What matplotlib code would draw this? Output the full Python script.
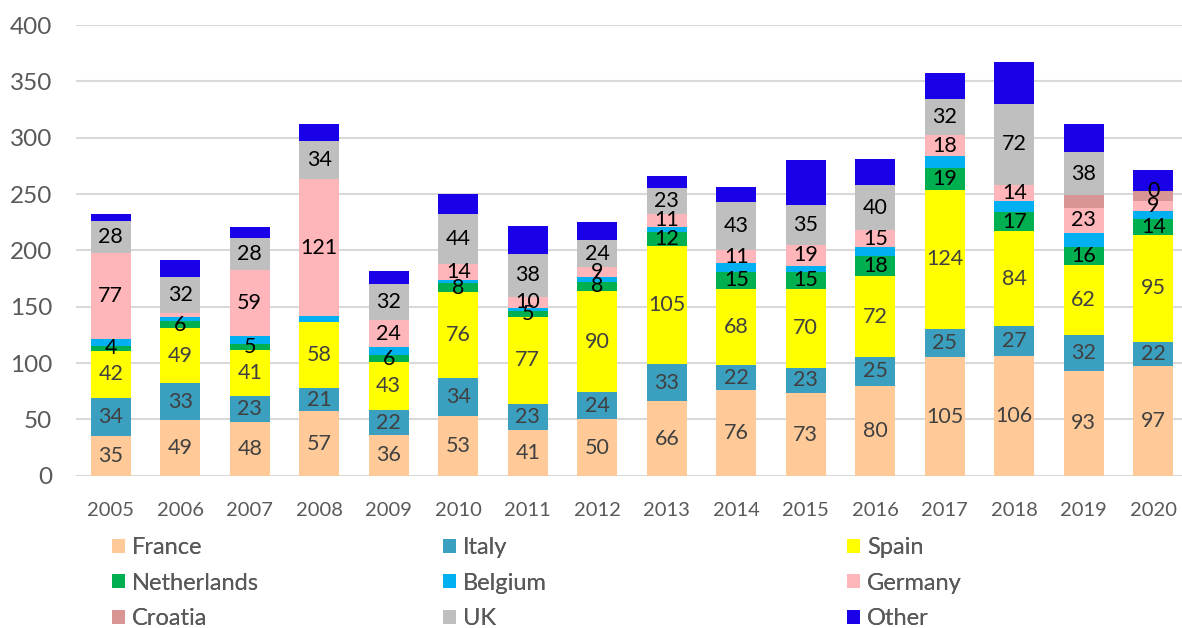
import numpy as np
import matplotlib.pyplot as plt

plt.rcParams['font.family'] = ['Lato', 'DejaVu Sans']

years = ["2005", "2006", "2007", "2008", "2009", "2010", "2011", "2012",
         "2013", "2014", "2015", "2016", "2017", "2018", "2019", "2020"]

nan = np.nan
france = [35, 49, 48, 57, 36, 53, 41, 50, 66, 76, 73, 80, 105, 106, 93, 97]
italy = [34, 33, 23, 21, 22, 34, 23, 24, 33, 22, 23, 25, 25, 27, 32, 22]
spain = [42, 49, 41, 58, 43, 76, 77, 90, 105, 68, 70, 72, 124, 84, 62, 95]
netherlands = [4, 6, 5, nan, 6, 8, 5, 8, 12, 15, 15, 18, 19, 17, 16, 14]
belgium = [6, 4, 7, 6, 7, 3, 3, 4, 5, 8, 5, 8, 11, 10, 12, 7]
germany = [77, 3, 59, 121, 24, 14, 10, 9, 11, 11, 19, 15, 18, 14, 23, 9]
croatia = [nan, nan, nan, nan, nan, nan, nan, nan, nan, nan, nan, nan, nan, nan, 11, 9]
uk = [28, 32, 28, 34, 32, 44, 38, 24, 23, 43, 35, 40, 32, 72, 38, 0]
other = [6, 15, 10, 15, 12, 18, 25, 16, 11, 13, 40, 23, 23, 37, 25, 18]

names = ["France", "Italy", "Spain", "Netherlands", "Belgium", "Germany", "Croatia", "UK", "Other"]
series = [france, italy, spain, netherlands, belgium, germany, croatia, uk, other]
colors = ["#FFCA98", "#3B9FBF", "#FFFF00", "#00B050", "#00B0F0", "#FFB6BA", "#D99594", "#BFBFBF", "#1A00E8"]
# which series get data labels, and in which colour
label_color = {"France": "#404040", "Italy": "#404040", "Spain": "#404040",
               "Netherlands": "black", "Germany": "black", "UK": "black"}
# the 2006 Germany sliver carries no label in the original
skip_labels = {("Germany", "2006")}

fig = plt.figure(figsize=(11.82, 6.28), dpi=100)
ax = fig.add_axes([76 / 1182, 152.3 / 628, 1112 / 1182, 450.7 / 628])

x = np.arange(len(years))
bottom = np.zeros(len(years))
bars = {}
for name, vals, col in zip(names, series, colors):
    v = np.array(vals, dtype=float)
    h = np.nan_to_num(v)
    bars[name] = ax.bar(x, h, 0.575, bottom=bottom, color=col, zorder=2, label=name)
    if name in label_color:
        for i in range(len(years)):
            if np.isnan(v[i]) or (name, years[i]) in skip_labels:
                continue
            ax.text(x[i], bottom[i] + h[i] / 2, "%d" % v[i], ha="center", va="center",
                    fontsize=15.5, color=label_color[name], zorder=3)
    bottom += h

ax.set_xlim(-0.5, len(years) - 0.5)
ax.set_ylim(0, 400)
ax.set_yticks(range(0, 401, 50))
ax.set_xticks(x)
ax.set_xticklabels(years)
ax.yaxis.grid(True, color="#D9D9D9", linewidth=1.5, zorder=0)
ax.set_axisbelow(True)
for s in ax.spines.values():
    s.set_visible(False)
ax.tick_params(axis="both", length=0, colors="#595959")
ax.tick_params(axis="y", labelsize=17.5, pad=17)
ax.tick_params(axis="x", labelsize=14.5, pad=19)

# legend: three columns at uneven x positions, like the original
cols = [["France", "Netherlands", "Croatia"],
        ["Italy", "Belgium", "UK"],
        ["Spain", "Germany", "Other"]]
col_x = [112, 443, 847]
for cx, grp in zip(col_x, cols):
    leg = fig.legend([bars[n] for n in grp], grp, loc="upper left",
                     bbox_to_anchor=(cx / 1182, 1 - 537 / 628), frameon=False,
                     fontsize=17, labelcolor="#595959", handlelength=0.55, handleheight=0.55,
                     handletextpad=0.3, labelspacing=0.62, borderaxespad=0, borderpad=0)
    fig.add_artist(leg)

fig.savefig("out.png", dpi=100)
